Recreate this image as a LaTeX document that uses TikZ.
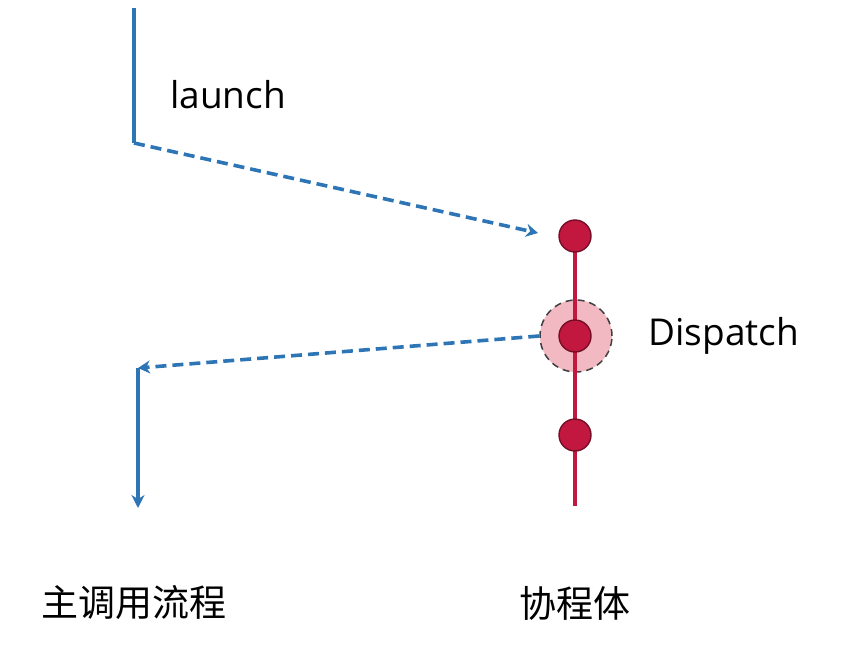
\documentclass[tikz,border=0pt]{standalone}
\usepackage{fontspec}
\setmainfont{Open Sans}
\newfontfamily\cjkfont{Noto Sans CJK SC}
\usetikzlibrary{arrows.meta,positioning}

\definecolor{flowblue}{HTML}{2E75B6}
\definecolor{corored}{HTML}{C2173F}
\definecolor{halopink}{HTML}{F2B9C3}

\begin{document}
\begin{tikzpicture}[x=1pt,y=-1pt,
    flow/.style={flowblue, line width=3.6pt},
    jump/.style={flow, dash pattern=on 11pt off 6pt, -{Stealth[length=12pt,width=13pt]}},
    dot/.style={circle, fill=corored, draw=corored!60!black, line width=1.4pt, inner sep=0pt, minimum size=32pt},
    txt/.style={font=\fontsize{37}{42}\selectfont}]
    \useasboundingbox (0,0) rectangle (867,656);

    % main flow (left)
    \coordinate (mainTop) at (134,8);
    \coordinate (mainTurn) at (134,143);
    \coordinate (mainBack) at (138,368);
    \coordinate (mainEnd) at (138,508);
    \coordinate (launchEnd) at (538,233);

    % coroutine body (right)
    \node[circle, fill=halopink, draw=black!75, dash pattern=on 7pt off 5pt, line width=1.5pt, inner sep=0pt, minimum size=72pt] (halo) at (576,336) {};
    \coordinate (coTop) at (575,236);
    \coordinate (coEnd) at (575,506);
    \draw[corored, line width=3.2pt] (coTop) -- (coEnd);
    \node[dot] (start) at (575,236) {};
    \node[dot] (suspend) at (575,336) {};
    \node[dot] (resume) at (575,435) {};

    % connectors
    \draw[flow] (mainTop) -- (mainTurn);
    \draw[jump] (mainTurn) -- (launchEnd);
    \draw[jump] (halo.west) -- (mainBack);
    \draw[flow, -{Stealth[length=13pt,width=13pt]}] (mainBack) -- (mainEnd);

    % labels
    \node[txt] (launchLbl) at (228,95) {launch};
    \node[txt, anchor=west] (dispatchLbl) at (645,336) {Dispatch};
    \node[txt, font=\cjkfont\fontsize{37}{42}\selectfont] (mainLbl) at (134,603) {主调用流程};
    \node[txt, font=\cjkfont\fontsize{37}{42}\selectfont] (coLbl) at (575,603) {协程体};
\end{tikzpicture}
\end{document}
